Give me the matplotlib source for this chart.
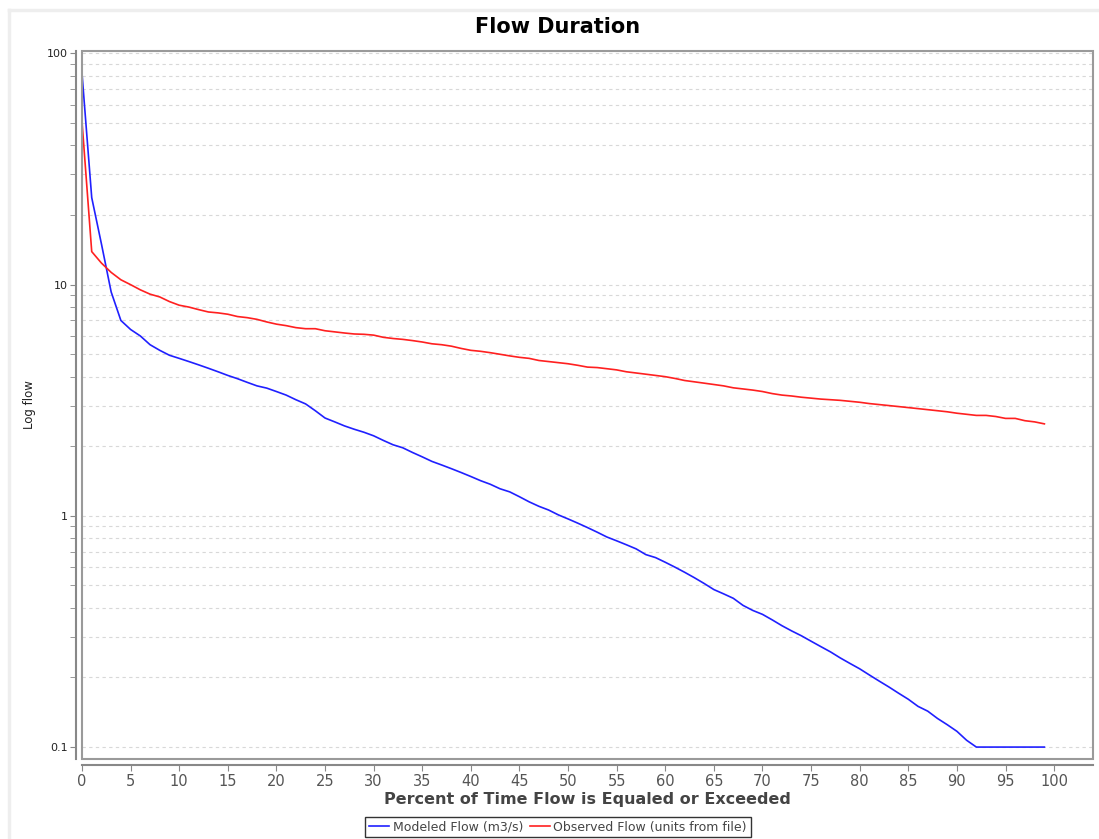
import matplotlib
matplotlib.use("Agg")
import matplotlib.pyplot as plt
from matplotlib.lines import Line2D
from matplotlib.patches import Rectangle
from matplotlib.ticker import FixedLocator, NullFormatter, FuncFormatter

# percent of time flow is equaled or exceeded
pct = list(range(0, 100))

modeled = [82, 23.8, 15.0, 9.3, 7.0, 6.4, 6.0, 5.5, 5.2, 4.95,
           4.8, 4.65, 4.5, 4.35, 4.2, 4.05, 3.92, 3.78, 3.65, 3.57,
           3.45, 3.33, 3.18, 3.05, 2.85, 2.65, 2.55, 2.45, 2.37, 2.3,
           2.22, 2.12, 2.03, 1.97, 1.88, 1.8, 1.72, 1.66, 1.6, 1.54,
           1.48, 1.42, 1.37, 1.31, 1.27, 1.21, 1.15, 1.1, 1.06, 1.01,
           0.97, 0.93, 0.89, 0.85, 0.81, 0.78, 0.75, 0.72, 0.68, 0.66,
           0.63, 0.6, 0.57, 0.54, 0.51, 0.48, 0.46, 0.44, 0.41, 0.39,
           0.375, 0.355, 0.335, 0.318, 0.303, 0.287, 0.272, 0.258, 0.243, 0.23,
           0.218, 0.205, 0.193, 0.182, 0.171, 0.161, 0.15, 0.143, 0.133, 0.125,
           0.117, 0.107, 0.1, 0.1, 0.1, 0.1, 0.1, 0.1, 0.1, 0.1]

observed = [50.8, 13.9, 12.4, 11.3, 10.5, 10.0, 9.5, 9.1, 8.85, 8.45,
            8.15, 8.0, 7.8, 7.62, 7.55, 7.45, 7.28, 7.2, 7.08, 6.9,
            6.75, 6.65, 6.52, 6.45, 6.45, 6.32, 6.25, 6.18, 6.12, 6.1,
            6.05, 5.92, 5.85, 5.8, 5.73, 5.65, 5.55, 5.5, 5.42, 5.3,
            5.2, 5.15, 5.08, 5.0, 4.92, 4.85, 4.8, 4.7, 4.65, 4.6,
            4.55, 4.48, 4.4, 4.38, 4.33, 4.28, 4.2, 4.15, 4.1, 4.05,
            4.0, 3.93, 3.85, 3.8, 3.75, 3.7, 3.65, 3.58, 3.54, 3.5,
            3.45, 3.38, 3.33, 3.3, 3.26, 3.23, 3.2, 3.18, 3.16, 3.13,
            3.1, 3.06, 3.03, 3.0, 2.97, 2.94, 2.91, 2.88, 2.85, 2.82,
            2.78, 2.75, 2.72, 2.72, 2.69, 2.64, 2.64, 2.58, 2.55, 2.5]

series_labels = ["Modeled Flow (m3/s)", "Observed Flow (units from file)"]
x_ticks = list(range(0, 101, 5))
y_major = [0.1, 1, 10, 100]

W, H = 1099, 839
fig = plt.figure(figsize=(W / 100, H / 100), dpi=100)
fig.patch.set_facecolor("white")

# light panel border (top/left)
fig.add_artist(Line2D([9 / W, 9 / W], [0, 1 - 10 / H], transform=fig.transFigure,
                      color="#eeeeee", lw=2.5))
fig.add_artist(Line2D([9 / W, 1], [1 - 10 / H, 1 - 10 / H], transform=fig.transFigure,
                      color="#eeeeee", lw=2.5))

ax = fig.add_axes([82 / W, 1 - 759 / H, (1093 - 82) / W, (759 - 51) / H])

ax.plot(pct, modeled, color="#2020ff", lw=1.2, label=series_labels[0])
ax.plot(pct, observed, color="#ff2020", lw=1.2, label=series_labels[1])

ax.set_yscale("log")
ax.set_xlim(0, 104)
ax.set_ylim(0.0888, 102.5)

# y ticks and grid
ax.yaxis.set_major_locator(FixedLocator(y_major))
minors = [m * 10.0 ** e for e in range(-1, 2) for m in range(2, 10)]
ax.yaxis.set_minor_locator(FixedLocator(minors))
ax.yaxis.set_minor_formatter(NullFormatter())
ax.yaxis.set_major_formatter(FuncFormatter(lambda v, p: "%g" % v))
ax.grid(True, which="both", axis="y", color="#d8d8d8", ls=(0, (3, 3)), lw=0.8)
ax.set_xticks(x_ticks)

ax.tick_params(axis="y", which="both", direction="out", length=4, color="#888888",
               labelsize=8, labelcolor="#222222", pad=2)
ax.tick_params(axis="x", direction="out", length=4, color="#888888",
               labelsize=10.5, labelcolor="#555555", pad=3)

for s in ["top", "right"]:
    ax.spines[s].set_visible(False)
ax.spines["left"].set_position(("outward", 4))
ax.spines["bottom"].set_position(("outward", 4))
ax.spines["left"].set_color("#888888")
ax.spines["bottom"].set_color("#888888")
ax.spines["left"].set_linewidth(1.5)
ax.spines["bottom"].set_linewidth(1.5)
# plot box
ax.add_patch(Rectangle((0, 0), 1, 1, transform=ax.transAxes, fill=False,
                       edgecolor="#9a9a9a", lw=1.5, clip_on=False, zorder=5))

ax.set_xlabel("Percent of Time Flow is Equaled or Exceeded", fontsize=11.5,
              fontweight="bold", color="#444444", labelpad=2)
ax.set_ylabel("Log flow", fontsize=8.5, color="#222222")
ax.yaxis.set_label_coords((36 - 82) / (1093 - 82), 0.5)
fig.text(558 / W, 1 - 27 / H, "Flow Duration", ha="center", va="center",
         fontsize=15, fontweight="bold", color="black")

leg = ax.legend(loc="center", bbox_to_anchor=(558 / W, 1 - 827 / H), bbox_transform=fig.transFigure,
                ncol=2, frameon=True, fancybox=False, fontsize=9, handlelength=1.6,
                handletextpad=0.3, columnspacing=0.5, borderpad=0.3, borderaxespad=0)
leg.get_frame().set_edgecolor("black")
leg.get_frame().set_linewidth(1.0)
for t in leg.get_texts():
    t.set_color("#444444")

fig.savefig("out.png", dpi=100)
